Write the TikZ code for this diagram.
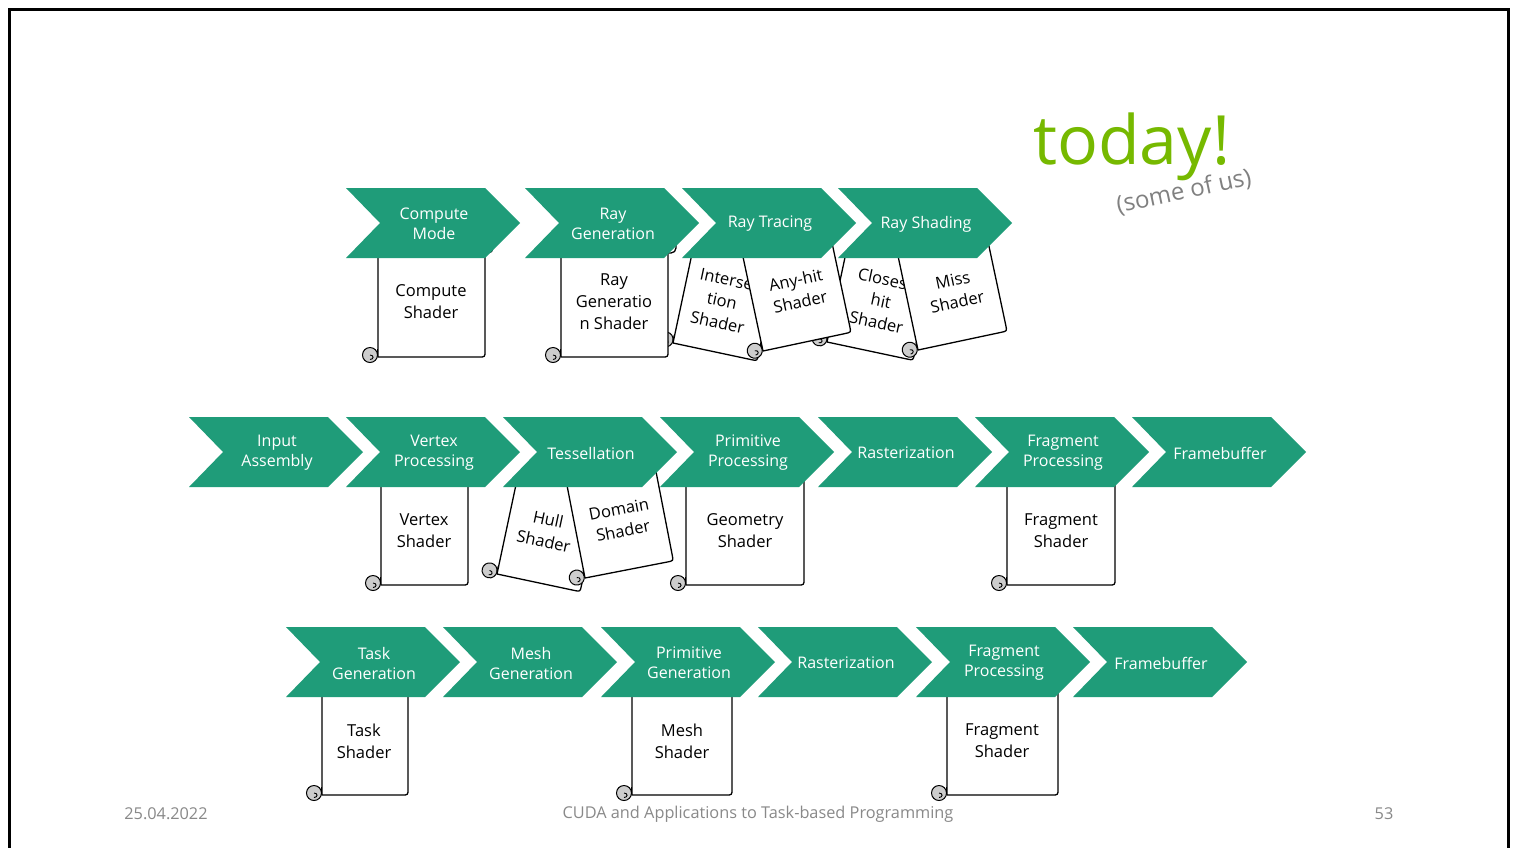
\documentclass[tikz,border=0pt]{standalone}
\usepackage{fontspec}
\setmainfont{Open Sans}
\definecolor{chev}{RGB}{31,156,121}
\definecolor{todaygreen}{RGB}{118,185,0}
\definecolor{footgray}{RGB}{137,137,137}
\definecolor{curlgray}{RGB}{205,205,205}
\tikzset{
  chevfill/.style={fill=chev, draw=none},
  chevtext/.style={text=white, font=\fontsize{16}{20}\selectfont, align=center, inner sep=0pt},
  scrolltext/.style={font=\fontsize{16.5}{22}\selectfont, align=center, inner sep=0pt},
  scrollline/.style={draw=black, line width=1.3pt, fill=white, line join=round},
  curl/.style={draw=black, line width=1pt, fill=curlgray},
  foot/.style={text=footgray, font=\fontsize{16.3}{19}\selectfont, inner sep=0pt},
}
% chevron: name, left x, top y, text
\newcommand\chevr[4]{%
  \fill[chevfill] (#2,#3) -- ++(139,0) -- ++(35,35) -- ++(-35,35) -- ++(-139,0) -- ++(34,-35) -- cycle;
  \node[chevtext] (#1) at ({#2+88},{#3+36}) {#4};
}
% scroll body in local coords: bottom-left corner at origin, width #1, height #2
\newcommand\scrollbody[2]{%
  \draw[scrollline] (0,{-(#2)}) -- (0,0) -- ({(#1)-6},0) .. controls ({#1},0) .. ({#1},-6) -- ({#1},{-(#2)});
  \draw[curl] (-8,-2) circle[radius=7.5];
  \draw[line width=0.9pt] (-8,-2) .. controls (-4,-2) and (-4,2.5) .. (-8,2.5);
  \draw[line width=0.9pt] (-0.5,-8) -- (-0.5,-2);
}
% upright scroll with visible top roll: L, R, B, T
\newcommand\uscroll[4]{%
  \draw[scrollline, rounded corners=5] ({#1},{#4-14}) rectangle ({#2+8},{#4+8});
  \begin{scope}[shift={(#1,#3)}]
    \scrollbody{#2-#1}{#3-#4}
  \end{scope}
}
% upright scroll, top hidden: L, R, B, T
\newcommand\pscroll[4]{%
  \begin{scope}[shift={(#1,#3)}]
    \scrollbody{#2-#1}{#3-#4}
  \end{scope}
}
% tilted scroll: x, y (bottom-left), rotation, width, height
\newcommand\tscroll[5]{%
  \begin{scope}[shift={(#1,#2)}, rotate=#3]
    \scrollbody{#4}{#5}
  \end{scope}
}
\begin{document}
\begin{tikzpicture}[x=1pt,y=-1pt]
\useasboundingbox (0,0) rectangle (1517,847);
\fill[white] (0,0) rectangle (1517,847);
% frame
\draw[line width=3pt] (9.5,850) -- (9.5,9.5) -- (1508.5,9.5) -- (1508.5,850);

% ---------- row 1 scrolls ----------
\tscroll{673}{343}{-12}{86}{93}
\node[scrolltext, rotate=-12] (isec) at (722,301) {Interse\\tion\\Shader};
\tscroll{827}{342}{-12}{88}{90}
\node[scrolltext, rotate=-12] (chit) at (881,301) {Closest\\hit\\Shader};
\tscroll{763}{351}{12}{90}{100}
\node[scrolltext, rotate=12] (ahit) at (798,291) {Any-hit\\Shader};
\tscroll{918}{350}{12}{91}{100}
\node[scrolltext, rotate=12] (miss) at (955,291) {Miss\\Shader};
\uscroll{378}{485}{357}{245}
\node[scrolltext] (cs) at (431,302) {Compute\\Shader};
\uscroll{561}{668}{357}{245}
\node[scrolltext] (rgs) at (614,302) {Ray\\Generatio\\n Shader};

% ---------- row 2 scrolls ----------
\pscroll{381}{468}{585}{475}
\node[scrolltext] (vs) at (424,531) {Vertex\\Shader};
\tscroll{497}{574}{-12}{85}{100}
\node[scrolltext, rotate=-12] (hs) at (546,530) {Hull\\Shader};
\pscroll{686}{804}{585}{475}
\node[scrolltext] (gs) at (745,531) {Geometry\\Shader};
\tscroll{585}{578}{11}{90}{100}
\node[scrolltext, rotate=11] (ds) at (621,520) {Domain\\Shader};
\pscroll{1007}{1115}{585}{475}
\node[scrolltext] (fs) at (1061,531) {Fragment\\Shader};

% ---------- row 3 scrolls ----------
\pscroll{322}{408}{795}{685}
\node[scrolltext] (tsh) at (364,741) {Task\\Shader};
\pscroll{632}{732}{795}{685}
\node[scrolltext] (msh) at (682,741) {Mesh\\Shader};
\pscroll{947}{1058}{795}{685}
\node[scrolltext] (fs3) at (1002,741) {Fragment\\Shader};

% ---------- chevrons ----------
\chevr{cm}{346}{188}{Compute\\Mode}
\chevr{rg}{525}{188}{Ray\\Generation}
\chevr{rt}{682}{188}{Ray Tracing}
\chevr{rs}{838}{188}{Ray Shading}

\chevr{ia}{189}{417}{Input\\Assembly}
\chevr{vp}{346}{417}{Vertex\\Processing}
\chevr{te}{503}{417}{Tessellation}
\chevr{pp}{660}{417}{Primitive\\Processing}
\chevr{ra}{818}{417}{Rasterization}
\chevr{fp}{975}{417}{Fragment\\Processing}
\chevr{fb}{1132}{417}{Framebuffer}

\chevr{tg}{286}{627}{Task\\Generation}
\chevr{mg}{443}{627}{Mesh\\Generation}
\chevr{pg}{601}{627}{Primitive\\Generation}
\chevr{rb}{758}{627}{Rasterization}
\chevr{fq}{916}{627}{Fragment\\Processing}
\chevr{fc}{1073}{627}{Framebuffer}

% ---------- today ----------
\node[anchor=base west, inner sep=0pt, text=todaygreen, font=\fontsize{68}{72}\selectfont] (today) at (1033,164) {today!};
\node[inner sep=0pt, text=gray, font=\fontsize{24}{28}\selectfont, rotate=12] (some) at (1184,192) {(some of us)};

% ---------- footer ----------
\node[foot] (date) at (166,814) {25.04.2022};
\node[foot] (title) at (758,814) {CUDA and Applications to Task-based Programming};
\node[foot] (page) at (1384,814) {53};
\end{tikzpicture}
\end{document}
